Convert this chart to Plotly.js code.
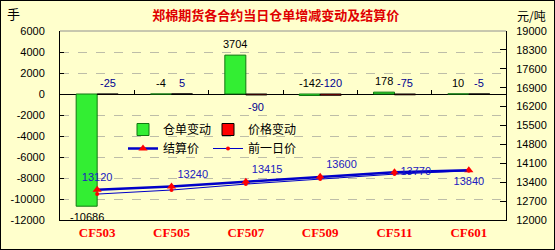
<!DOCTYPE html>
<html><head><meta charset="utf-8">
<script src="https://cdn.plot.ly/plotly-3.0.1.min.js"></script>
<style>body{margin:0;background:#fff}#chart{width:553px;height:248px;border:1px solid #000}</style>
</head><body><div id="chart"></div>
<script>
const categories = ['CF503','CF505','CF507','CF509','CF511','CF601'];
const warehouseChange = [-10686,-4,3704,-142,178,10];
const priceChange = [-25,5,-90,-120,-75,-5];
const settlePrice = [13120,13240,13415,13600,13770,13840];
const prevPrice = [12960,13110,13330,13520,13700,13820];
const leftTicks = [6000,4000,2000,0,-2000,-4000,-6000,-8000,-10000,-12000];
const rightTicks = [19000,18300,17600,16900,16200,15500,14800,14100,13400,12700,12000];

const whLabelSide = ['below','above','above','above','above','above'];
const prLabelSide = ['above','above','below','above','above','above'];
const settleTextPos = ['top center','top right','top right','top right','middle right','bottom center'];

const yMin = -12000, yMax = 6000, y2Min = 12000, y2Max = 19000;
const bargap = 0.435;
const half = (1 - bargap) / 4;
const bg = '#FFFFCC';
const numFont = {family:'Liberation Sans, Arial, sans-serif', size:11, color:'#000'};
const cjk = 'Noto Sans CJK SC, sans-serif';

const traces = [
  {type:'bar', name:'仓单变动', x:categories, y:warehouseChange, yaxis:'y', xaxis:'x',
   marker:{color:'#33EE33', line:{color:'#117711', width:1}}, legend:'legend', hoverinfo:'skip'},
  {type:'bar', name:'价格变动', x:categories, y:priceChange, yaxis:'y', xaxis:'x',
   marker:{color:'#FF0000', line:{color:'#000', width:1}}, legend:'legend2', hoverinfo:'skip'},
  {type:'scatter', mode:'lines+markers+text', name:'结算价', x:categories, y:settlePrice, yaxis:'y2',
   line:{color:'#0000C8', width:2.5}, marker:{symbol:'triangle-up', size:8, color:'#FF0000'},
   text:settlePrice.map(String), textposition:settleTextPos,
   textfont:{family:'Liberation Sans, Arial, sans-serif', size:11, color:'#2020C0'},
   legend:'legend3', cliponaxis:false, hoverinfo:'skip'},
  {type:'scatter', mode:'lines+markers', name:'前一日价', x:categories, y:prevPrice, yaxis:'y2',
   line:{color:'#0000C8', width:1}, marker:{symbol:'circle', size:4, color:'#FF0000'},
   legend:'legend4', hoverinfo:'skip'},
  {type:'scatter', mode:'markers', x:categories, y:categories.map(()=>null), xaxis:'x2', yaxis:'y',
   showlegend:false, hoverinfo:'skip'}
];

const annotations = [];
warehouseChange.forEach((v,i)=>{
  const up = whLabelSide[i]==='above';
  annotations.push({x:i-half, y: up ? Math.max(v,0) : Math.min(v,0), xref:'x', yref:'y',
    text:String(v), showarrow:false, xanchor:'center', yanchor: up?'bottom':'top', yshift: up?3:-3,
    font:numFont});
});
priceChange.forEach((v,i)=>{
  const up = prLabelSide[i]==='above';
  annotations.push({x:i+half, y: up ? Math.max(v,0) : Math.min(v,0), xref:'x', yref:'y',
    text:String(v), showarrow:false, xanchor:'center', yanchor: up?'bottom':'top', yshift: up?3:-4,
    font:Object.assign({}, numFont, {color:'#000090'})});
});
annotations.push({text:'手', xref:'paper', yref:'paper', x:(13-60)/446, y:(220-14)/189,
  xanchor:'center', yanchor:'middle', showarrow:false, font:{family:cjk, size:13, color:'#000'}});
annotations.push({text:'元/吨', xref:'paper', yref:'paper', x:(531-60)/446, y:(220-15)/189,
  xanchor:'center', yanchor:'middle', showarrow:false, font:{family:cjk, size:12, color:'#000'}});

function leg(px, py){
  return {orientation:'v', x:(px-60)/446, xanchor:'left', y:(220-py)/189, yanchor:'top', bgcolor:'rgba(0,0,0,0)',
    font:{family:cjk, size:12, color:'#000'}};
}

const layout = {
  width:553, height:248,
  margin:{l:59, r:48, t:30, b:29},
  paper_bgcolor:bg, plot_bgcolor:bg,
  showlegend:true,
  barmode:'group', bargap:bargap, bargroupgap:0,
  title:{text:'郑棉期货各合约当日仓单增减变动及结算价', font:{family:cjk, size:13, color:'#E00000', weight:'bold'},
    x:0.497, xref:'container', y:1-14/248, yanchor:'middle', yref:'container'},
  xaxis:{type:'category', categoryarray:categories, range:[-0.5,5.5], showline:true, linecolor:'#000', linewidth:1,
    ticks:'', showgrid:false, zeroline:false,
    tickfont:{family:'Liberation Serif, Times New Roman, serif', size:13, color:'#FF0000', weight:'bold'}},
  xaxis2:{type:'category', categoryarray:categories, range:[-0.5,5.5], overlaying:'x', anchor:'free',
    position:(0-yMin)/(yMax-yMin), side:'bottom', ticks:'inside', tickson:'boundaries', ticklen:4, tickcolor:'#000',
    showticklabels:false, showgrid:false, showline:false, zeroline:false},
  yaxis:{range:[yMin,yMax], tickvals:leftTicks, ticktext:leftTicks.map(String), showline:true, linecolor:'#000',
    ticks:'inside', ticklen:4, tickcolor:'#000', showgrid:true, gridcolor:'#BDBDA8', griddash:'dash', gridwidth:1,
    zeroline:true, zerolinecolor:'#000', zerolinewidth:1, tickfont:numFont, ticklabelstandoff:12},
  yaxis2:{range:[y2Min,y2Max], tickvals:rightTicks, ticktext:rightTicks.map(String), overlaying:'y', side:'right',
    showline:true, linecolor:'#000', ticks:'inside', ticklen:6, tickcolor:'#000', showgrid:false, zeroline:false,
    tickfont:numFont, ticklabelstandoff:7},
  legend:leg(123,115),
  legend2:leg(208,115),
  legend3:leg(123,134),
  legend4:leg(208,134),
  shapes:[{type:'line', xref:'paper', yref:'paper', x0:0, x1:1, y0:1, y1:1, line:{color:'#909090', width:1}}],
  annotations:annotations
};
Plotly.newPlot('chart', traces, layout, {displayModeBar:false, staticPlot:true});
</script></body></html>
